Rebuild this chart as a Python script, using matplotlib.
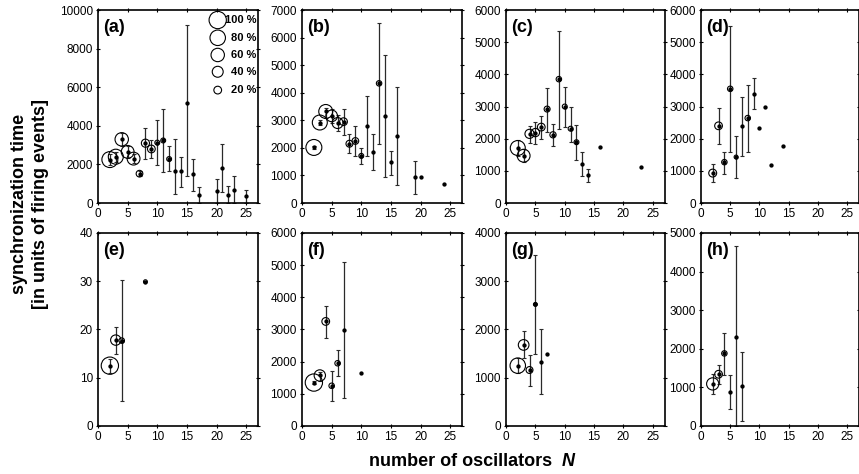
import numpy as np
import matplotlib.pyplot as plt

plt.rcParams['font.family'] = ['Liberation Sans', 'DejaVu Sans']

nan = np.nan

# (a)
a_n = [2, 3, 4, 5, 6, 7, 8, 9, 10, 11, 12, 13, 14, 15, 16, 17, 20, 21, 22, 23, 25]
a_t = [2250, 2400, 3300, 2650, 2300, 1520, 3100, 2800, 3130, 3240, 2280, 1640, 1640, 5200, 1500, 400, 640, 1810, 430, 690, 340]
a_lo = [1950, 2150, 2950, 2350, 2050, 1380, 2280, 2330, 1980, 1590, 1640, 470, 850, 1400, 640, 0, 0, 550, 0, 0, 0]
a_hi = [2550, 2650, 3650, 2950, 2550, 1660, 3880, 3270, 4300, 4860, 2930, 3330, 2400, 9220, 2280, 810, 1240, 3070, 860, 1380, 690]
a_pct = [85, 75, 60, 55, 55, 15, 22, 20, 8, 8, 8, 0, 0, 0, 0, 0, 0, 0, 0, 0, 0]

# (b)
b_n = [2, 3, 4, 5, 6, 7, 8, 9, 10, 11, 12, 13, 14, 15, 16, 19, 20, 24]
b_t = [2015, 2920, 3320, 3160, 2900, 2950, 2150, 2250, 1710, 2800, 1850, 4340, 3160, 1470, 2440, 940, 940, 700]
b_lo = [1960, 2820, 3080, 2900, 2600, 2470, 1810, 1690, 1400, 1710, 1180, 2150, 940, 1000, 640, 340, nan, nan]
b_hi = [2070, 3020, 3440, 3400, 3200, 3400, 2510, 2780, 2010, 3880, 2500, 6540, 5360, 1900, 4220, 1540, nan, nan]
b_pct = [85, 75, 65, 45, 40, 20, 16, 15, 8, 0, 0, 10, 0, 0, 0, 0, 0, 0]

# (c)
c_n = [2, 3, 4, 5, 6, 7, 8, 9, 10, 11, 12, 13, 14, 16, 23]
c_t = [1710, 1470, 2150, 2190, 2360, 2920, 2120, 3850, 3000, 2310, 1890, 1220, 860, 1730, 1120]
c_lo = [1450, 1270, 1880, 1830, 1990, 2220, 1780, 2300, 2350, 1910, 1340, 830, 660, nan, nan]
c_hi = [1970, 1670, 2400, 2530, 2710, 3570, 2450, 5360, 3620, 3000, 2430, 1600, 1050, nan, nan]
c_pct = [75, 55, 28, 23, 20, 12, 13, 10, 8, 8, 8, 0, 0, 0, 0]

# (d)
d_n = [2, 3, 4, 5, 6, 7, 8, 9, 10, 11, 12, 14]
d_t = [930, 2400, 1270, 3550, 1430, 2400, 2640, 3390, 2340, 3000, 1190, 1780]
d_lo = [640, 1830, 910, 1600, 780, 1470, 1600, 2910, nan, nan, nan, nan]
d_hi = [1210, 2950, 1600, 5500, 2070, 3310, 3670, 3900, nan, nan, nan, nan]
d_pct = [21, 20, 10, 10, 5, 0, 10, 0, 0, 0, 0, 0]

# (e)
e_n = [2, 3, 4, 8]
e_t = [12.5, 17.8, 17.7, 29.9]
e_lo = [11.0, 15.0, 5.2, nan]
e_hi = [13.8, 20.6, 30.2, nan]
e_pct = [100, 36, 10, 5]

# (f)
f_n = [2, 3, 4, 5, 6, 7, 10]
f_t = [1350, 1570, 3250, 1250, 1950, 2990, 1660]
f_lo = [1300, 1410, 2750, 770, 1560, 860, nan]
f_hi = [1400, 1670, 3740, 1710, 2370, 5100, nan]
f_pct = [100, 43, 20, 10, 10, 0, 0]

# (g)
g_n = [2, 3, 4, 5, 6, 7]
g_t = [1250, 1680, 1160, 2520, 1330, 1500]
g_lo = [1100, 1400, 830, 1500, 660, nan]
g_hi = [1400, 1970, 1470, 3540, 2010, nan]
g_pct = [80, 38, 16, 5, 0, 0]

# (h)
h_n = [2, 3, 4, 5, 6, 7]
h_t = [1090, 1340, 1880, 890, 2310, 1030]
h_lo = [820, 1100, 1320, 440, 0, 130]
h_hi = [1340, 1580, 2410, 1320, 4650, 1920]
h_pct = [50, 20, 10, 0, 0, 0]

legend_pct = [100, 80, 60, 40, 20]

RING = 1.55  # scatter area per percent


def draw_panel(ax, n, t, lo, hi, pct, ymax, ystep, label):
    n = np.array(n, float)
    t = np.array(t, float)
    lo = np.array(lo, float)
    hi = np.array(hi, float)
    pct = np.array(pct, float)

    err = ~np.isnan(lo)
    ax.errorbar(n[err], t[err], yerr=[t[err] - lo[err], hi[err] - t[err]],
                fmt='none', ecolor='#2a2a2a', elinewidth=0.9, capsize=1.6, capthick=0.8)
    ring = pct > 0
    ax.scatter(n[ring], t[ring], s=pct[ring] * RING, facecolors='none',
               edgecolors='black', linewidths=0.8, zorder=3)
    ax.plot(n, t, 'o', color='black', ms=2.1, ls='none', zorder=4)

    ax.set_xlim(0, 27)
    ax.set_ylim(0, ymax)
    ax.set_xticks(np.arange(0, 26, 5))
    ax.set_yticks(np.arange(0, ymax + 1, ystep))
    ax.tick_params(direction='inout', length=3.5, width=0.8, labelsize=8.5,
                   top=True, right=True, pad=2)
    for sp in ax.spines.values():
        sp.set_linewidth(1.2)
    ax.text(0.03, 0.955, label, transform=ax.transAxes, fontsize=13,
            fontweight='bold', va='top', ha='left')


fig = plt.figure(figsize=(8.59, 4.74), dpi=100)

lefts = [0.1141, 0.3516, 0.5891, 0.8161]
widths = [0.1863, 0.1863, 0.1845, 0.1835]
bottoms = [0.5717, 0.1013]
h = 0.4072

panels = [
    (a_n, a_t, a_lo, a_hi, a_pct, 10000, 2000, '(a)'),
    (b_n, b_t, b_lo, b_hi, b_pct, 7000, 1000, '(b)'),
    (c_n, c_t, c_lo, c_hi, c_pct, 6000, 1000, '(c)'),
    (d_n, d_t, d_lo, d_hi, d_pct, 6000, 1000, '(d)'),
    (e_n, e_t, e_lo, e_hi, e_pct, 40, 10, '(e)'),
    (f_n, f_t, f_lo, f_hi, f_pct, 6000, 1000, '(f)'),
    (g_n, g_t, g_lo, g_hi, g_pct, 4000, 1000, '(g)'),
    (h_n, h_t, h_lo, h_hi, h_pct, 5000, 1000, '(h)'),
]

axes = []
for i, p in enumerate(panels):
    row, col = divmod(i, 4)
    ax = fig.add_axes([lefts[col], bottoms[row], widths[col], h])
    draw_panel(ax, *p)
    axes.append(ax)

# size legend in (a)
ax = axes[0]
leg_y = [0.948, 0.856, 0.767, 0.680, 0.585]
for pc, yy in zip(legend_pct, leg_y):
    ax.scatter([0.748], [yy], s=pc * RING, facecolors='none', edgecolors='black',
               linewidths=0.8, transform=ax.transAxes, clip_on=False, zorder=5)
    ax.text(0.99, yy, f'{pc} %', transform=ax.transAxes, fontsize=8,
            fontweight='bold', ha='right', va='center')

fig.text(0.035, 0.57, 'synchronization time\n[in units of firing events]',
         rotation=90, ha='center', va='center', fontsize=13, fontweight='bold',
         multialignment='center', linespacing=1.3)
fig.text(552 / 859, 0.017, 'number of oscillators', ha='right', va='baseline',
         fontsize=13, fontweight='bold')
fig.text(562 / 859, 0.017, 'N', ha='left', va='baseline',
         fontsize=13, fontweight='bold', style='italic')

fig.savefig('out.png', dpi=100)
